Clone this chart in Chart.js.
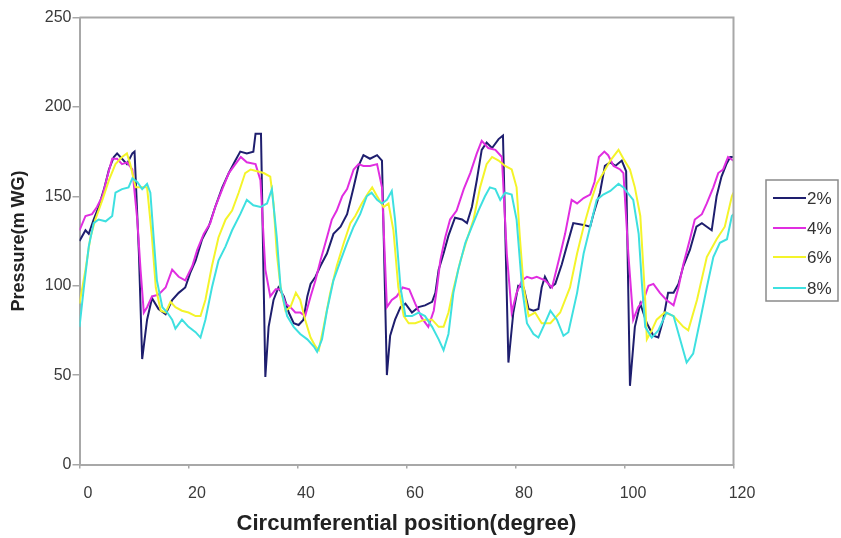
<!DOCTYPE html>
<html>
<head>
<meta charset="utf-8">
<script src="https://cdn.jsdelivr.net/npm/chart.js@4"></script>
<style>
html,body{margin:0;padding:0;background:#fff;}
canvas{display:block;}
</style>
</head>
<body>
<canvas id="c" width="841" height="538"></canvas>
<script>
// ---- data (degree, pressure) ----
const seriesLabels = ['2%', '4%', '6%', '8%'];
const xTicks = [0, 20, 40, 60, 80, 100, 120];
const yTicks = [0, 50, 100, 150, 200, 250];

const s2 = [[0,125],[1.1,131],[1.7,129],[2.6,137],[3.5,144],[4.5,154],[5.4,165],[6.3,172],[6.9,174],[7.8,171],[8.7,168],[9.7,174],[10.1,175],[10.9,118],[11.5,59],[12.4,81],[13.3,93],[14.5,87],[15.8,84],[17,92],[18.2,96],[19.4,99],[20.3,107],[21.3,114],[22.5,126],[23.7,133],[24.9,144],[26.2,155],[27.4,163],[28.6,170],[29.5,175],[30.7,174],[31.9,175],[32.3,185],[33.3,185],[34.1,49],[34.7,77],[35.6,92],[36.5,99],[37.5,94],[38.4,85],[39.3,79],[40.2,78],[41.1,81],[41.8,94],[42.4,101],[43.3,105],[44.2,111],[45.4,118],[46.6,129],[47.9,133],[49.1,140],[50.3,155],[51.2,167],[52.1,173],[53.3,171],[54.6,173],[55.5,170],[56.4,50],[57,72],[57.9,81],[58.9,88],[59.8,90],[61,85],[62.2,88],[63.4,89],[64.7,91],[65.3,96],[65.9,109],[66.8,118],[67.7,128],[68.9,138],[70.2,137],[71.1,135],[72,144],[72.9,159],[73.8,176],[74.7,180],[75.7,177],[76.9,182],[77.7,184],[78.7,57],[79.6,85],[80.5,100],[81.5,99],[82.4,87],[83.3,86],[84.2,87],[84.8,99],[85.4,105],[86.4,99],[87.3,101],[88.5,112],[89.4,122],[90.6,135],[92.5,134],[93.7,133],[94.3,140],[95.5,152],[96.4,167],[97.4,169],[98.3,167],[99.5,170],[100.3,164],[101,44],[101.9,77],[102.9,90],[104.1,79],[105.3,72],[106.2,71],[107.1,81],[108,96],[109,96],[109.9,101],[110.8,111],[112,120],[113.2,133],[114.2,135],[115.1,133],[116,131],[116.9,150],[117.8,161],[118.7,168],[119.4,172],[120,172]];

const s4 = [[0,131],[1.1,139],[2.3,140],[3.2,144],[4.2,150],[5.1,161],[6,171],[6.9,171],[7.8,168],[8.7,169],[9.7,165],[10.6,137],[11.2,109],[11.8,85],[12.4,88],[13.3,94],[14.5,95],[15.8,99],[17,109],[18.2,105],[19.4,103],[20.7,111],[21.6,120],[22.8,129],[24,135],[24.9,144],[26.2,154],[27.4,163],[28.6,168],[29.6,172],[30.7,169],[32.3,168],[33.2,159],[34.1,109],[35,94],[36,98],[36.9,98],[37.8,90],[38.7,88],[39.6,85],[40.5,85],[41.4,83],[42.4,94],[43.3,103],[44.2,114],[45.4,127],[46.3,137],[47.2,142],[48.2,150],[49.1,154],[50.3,165],[51.2,168],[52.1,167],[53.3,167],[54.6,168],[55.5,155],[56.4,88],[57.3,92],[58.2,94],[59.3,99],[60.5,98],[61.6,90],[62.8,82],[64,77],[65,86],[65.6,99],[66.2,114],[67.1,127],[68,137],[69.2,142],[70.5,154],[71.7,163],[72.9,174],[73.8,181],[75,177],[76.3,176],[77.5,172],[78.4,118],[79.3,85],[80.2,96],[81.2,103],[82.1,105],[83,104],[83.9,105],[85.4,103],[86.7,99],[87.6,110],[88.4,120],[89.1,129],[90.3,148],[91.3,146],[92.5,149],[93.7,151],[94.5,158],[95.3,172],[96.3,175],[97,173],[98,167],[99.2,165],[99.8,163],[100.7,118],[101.6,81],[102.5,88],[103.5,92],[104.4,100],[105.3,101],[106.5,96],[107.7,92],[109,89],[109.9,99],[110.8,112],[112,126],[112.9,137],[114.2,140],[115.1,146],[116.3,155],[117.2,163],[118.1,165],[119,172],[120,170]];

const s6 = [[0,90],[1.1,109],[2,127],[2.9,137],[4.2,148],[5.4,159],[6.6,168],[7.8,172],[8.7,174],[9.3,168],[10.3,155],[11.5,155],[12.4,155],[13.3,127],[14,99],[14.9,86],[15.8,85],[16.7,91],[17.6,88],[18.8,86],[20,85],[21.3,83],[22.2,83],[23.1,92],[24.3,111],[25.5,127],[26.8,137],[28,142],[29.2,152],[30.4,163],[31.4,165],[32.6,164],[33.8,163],[35,161],[35.6,146],[36.2,118],[36.9,99],[37.8,86],[38.7,88],[39.7,96],[40.5,92],[41.4,81],[42.4,71],[43.3,66],[43.9,64],[44.8,77],[46,96],[47.2,111],[48.5,124],[49.7,135],[50.6,139],[51.8,146],[53,152],[53.7,155],[54.6,150],[55.8,144],[56.7,146],[57.6,131],[58.5,99],[59.5,83],[60.4,79],[61.6,79],[63.4,81],[64.7,81],[65.9,77],[66.8,77],[67.7,85],[68.6,98],[69.9,114],[71.1,126],[72.3,137],[73.5,155],[74.7,168],[75.7,172],[76.9,170],[78.1,167],[79.3,165],[80.2,155],[80.8,127],[81.5,99],[82.4,83],[83.6,85],[84.8,79],[86.4,79],[88.2,85],[90,99],[91.3,118],[92.5,133],[93.7,146],[94.9,157],[96.1,163],[97.4,170],[98.9,176],[99.8,171],[101,165],[101.9,155],[102.9,139],[103.8,92],[104.1,70],[105,75],[105.9,81],[107.4,85],[109,83],[110.8,77],[111.7,75],[113.3,92],[115.1,116],[116.9,126],[118.4,133],[119.7,150],[120,152]];

const s8 = [[0,77],[0.8,99],[1.7,122],[2.6,135],[3.5,137],[4.8,136],[6,139],[6.6,152],[7.8,154],[9,155],[9.7,160],[10.6,158],[11.5,154],[12.4,157],[13,152],[13.6,127],[14.2,103],[15.2,88],[16.1,85],[17,81],[17.6,76],[18.8,81],[20,77],[21.3,74],[22.2,71],[23.1,81],[24.3,99],[25.5,114],[26.8,122],[28,131],[29.5,140],[30.7,148],[31.9,145],[33.2,144],[34.4,146],[35.3,154],[36.2,127],[36.9,99],[38.1,83],[39.3,77],[40.5,73],[41.8,70],[43,66],[43.6,63],[44.5,70],[45.4,86],[46.6,103],[47.9,114],[49.1,124],[50.3,133],[51.5,140],[52.7,150],[53.6,152],[54.6,148],[55.5,146],[56.4,148],[57.3,153],[57.9,137],[58.9,99],[59.8,83],[61,83],[62.2,85],[63.4,83],[64.7,77],[65.9,70],[66.8,64],[67.7,73],[68.6,96],[69.5,109],[70.8,124],[72,133],[73.2,142],[74.4,150],[75.3,155],[76.3,154],[77.2,148],[78.1,152],[79.3,151],[80.2,137],[81.2,99],[82.1,79],[83.3,73],[84.2,71],[85.1,77],[86.4,86],[87.6,81],[88.8,72],[89.7,74],[91.3,96],[92.5,118],[93.7,133],[94.9,148],[96.1,151],[97.4,153],[98.9,157],[99.8,155],[101.6,148],[102.6,129],[103.2,101],[103.8,77],[105,71],[106.2,75],[107.7,85],[109,83],[110.2,70],[111.4,57],[112.6,62],[113.9,81],[115.1,99],[116.3,116],[117.5,124],[118.8,126],[119.7,139],[120,140]];

const seriesData = [s2, s4, s6, s8];
const colors = ['#1e1e6e', '#e02ee0', '#f4f42a', '#3ee0e0'];

const datasets = seriesData.map((s, i) => ({
  label: seriesLabels[i],
  data: s.map(p => ({x: p[0], y: p[1]})),
  borderColor: colors[i],
  backgroundColor: colors[i],
  borderWidth: 2,
  pointRadius: 0,
  tension: 0,
  fill: false,
  order: 4 - i
}));

const FONT = '"Liberation Sans", Arial, sans-serif';

const framePlugin = {
  id: 'frame',
  afterDatasetsDraw(chart) {
    const {ctx, chartArea: a} = chart;
    ctx.save();
    ctx.strokeStyle = '#a8a8a8';
    ctx.lineWidth = 2;
    ctx.beginPath();
    ctx.moveTo(a.left, a.top);
    ctx.lineTo(a.right, a.top);
    ctx.lineTo(a.right, a.bottom);
    ctx.stroke();
    ctx.restore();
  }
};

const legendPlugin = {
  id: 'boxLegend',
  afterDraw(chart) {
    const {ctx} = chart;
    const bx = 766, by = 180, bw = 72, bh = 121;
    ctx.save();
    ctx.strokeStyle = '#8a8a8a';
    ctx.lineWidth = 1.5;
    ctx.strokeRect(bx, by, bw, bh);
    const rowY = [198, 228, 257, 288];
    ctx.font = '17px ' + FONT;
    ctx.textBaseline = 'middle';
    ctx.textAlign = 'left';
    seriesLabels.forEach((lab, i) => {
      ctx.strokeStyle = colors[i];
      ctx.lineWidth = 2;
      ctx.beginPath();
      ctx.moveTo(773, rowY[i]);
      ctx.lineTo(806, rowY[i]);
      ctx.stroke();
      ctx.fillStyle = '#333';
      ctx.fillText(lab, 807, rowY[i] + 1);
    });
    ctx.restore();
  }
};

new Chart(document.getElementById('c'), {
  type: 'line',
  data: {datasets},
  options: {
    responsive: false,
    animation: false,
    devicePixelRatio: 1,
    layout: {padding: {left: 0, right: 107.5, top: 17.5, bottom: 0}},
    plugins: {legend: {display: false}, tooltip: {enabled: false}},
    scales: {
      x: {
        type: 'linear',
        min: 0, max: 120,
        afterBuildTicks: s => { s.ticks = xTicks.map(v => ({value: v})); },
        afterFit: s => { s.height = 73.5; },
        ticks: {font: {family: FONT, size: 16}, color: '#3a3a3a', padding: 15, labelOffset: 8.5, maxRotation: 0},
        grid: {drawOnChartArea: false, drawTicks: true, tickLength: 4, color: '#a8a8a8', lineWidth: 1.5},
        border: {color: '#a8a8a8', width: 2},
        title: {display: true, text: 'Circumferential position(degree)', font: {family: FONT, size: 22, weight: 'bold'}, color: '#222', padding: {top: 0, bottom: 1}}
      },
      y: {
        type: 'linear',
        min: 0, max: 250,
        afterBuildTicks: s => { s.ticks = yTicks.map(v => ({value: v})); },
        afterFit: s => { s.width = 79.5; },
        ticks: {font: {family: FONT, size: 16}, color: '#3a3a3a', padding: 1},
        grid: {drawOnChartArea: false, drawTicks: true, tickLength: 7, color: '#a8a8a8', lineWidth: 1.5},
        border: {color: '#a8a8a8', width: 2},
        title: {display: true, text: 'Pressure(m WG)', font: {family: FONT, size: 18, weight: 'bold'}, color: '#222', padding: {top: 8, bottom: 0}}
      }
    }
  },
  plugins: [framePlugin, legendPlugin]
});
</script>
</body>
</html>
